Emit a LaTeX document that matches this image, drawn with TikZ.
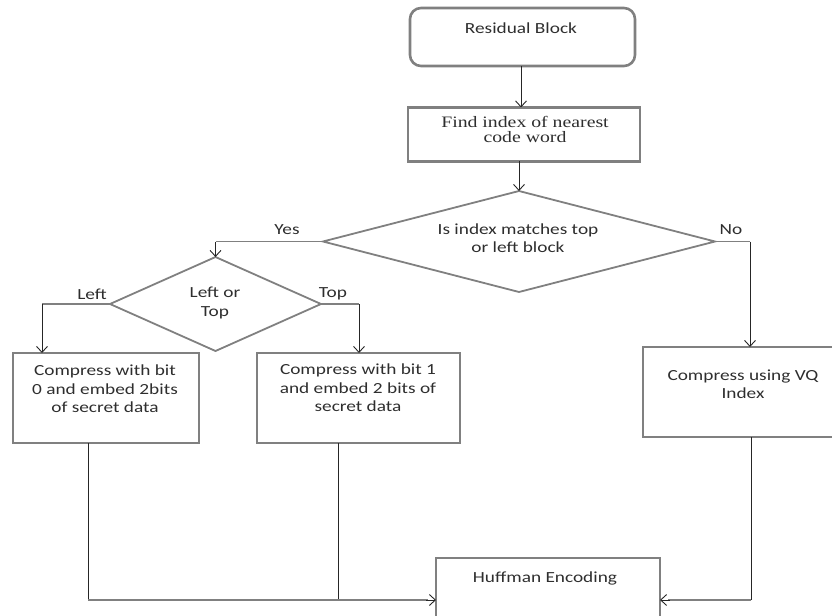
\documentclass[tikz,border=0pt]{standalone}
\usepackage{fontspec}
\setmainfont[FakeStretch=1.25]{Carlito}
\newfontfamily\serifbox[FakeStretch=1.24]{Liberation Serif}
\usetikzlibrary{shapes.geometric,arrows.meta}
\begin{document}
\begin{tikzpicture}[x=1bp,y=-1bp,
  every node/.style={inner sep=0pt,outer sep=0pt},
  boxshape/.style={draw=black!50,line width=2.6bp,rectangle,fill=none},
  dia/.style={draw=black!50,line width=1.8bp,diamond},
  txt/.style={font=\fontsize{15.5}{18.5}\selectfont,align=center,text=black!82},
  lbl/.style={font=\fontsize{15.5}{17}\selectfont,text=black!82},
  conn/.style={draw=black!85,line width=0.9bp},
  hconn/.style={draw=black!50,line width=1.8bp},
  arr/.style={conn,-{Straight Barb[length=6bp,width=11bp,line width=0.9bp]}}
]
\useasboundingbox (0,0) rectangle (832,616);

% boxes
\node[boxshape,rounded corners=11bp,minimum width=225bp,minimum height=58bp] (res) at (522.5,37) {};
\node[boxshape,minimum width=232bp,minimum height=54bp] (find) at (524,134.5) {};
\node[dia,minimum width=392bp,minimum height=101bp] (big) at (519,241.5) {};
\node[dia,minimum width=211bp,minimum height=94bp] (small) at (215.5,304) {};
\node[boxshape,minimum width=186bp,minimum height=90bp] (lb) at (106,398) {};
\node[boxshape,minimum width=203bp,minimum height=90bp] (mb) at (358.5,398) {};
\node[boxshape,minimum width=192bp,minimum height=90bp] (vq) at (739,392) {};
\node[boxshape,minimum width=224bp,minimum height=84bp] (huff) at (548,600) {};

% texts
\node[txt] (tres) at (521,28) {Residual Block};
\node[txt,font=\serifbox\fontsize{16}{15}\selectfont] (tfind) at (525,129) {Find index of nearest\\code word};
\node[txt] (tbig) at (518,238) {Is index matches top\\or left block};
\node[txt] (tsmall) at (215,303) {Left or\\Top};
\node[txt] (tlb) at (105,389) {Compress with bit\\0 and embed 2bits\\of secret data};
\node[txt] (tmb) at (358,388) {Compress with bit 1\\and embed 2 bits of\\secret data};
\node[txt] (tvq) at (743,384) {Compress using VQ\\Index};
\node[txt] (thuff) at (545,578) {Huffman Encoding};

% labels
\node[lbl] (yes) at (287,230) {Yes};
\node[lbl] (no) at (731,230) {No};
\node[lbl] (left) at (92,294) {Left};
\node[lbl] (top) at (333,294) {Top};

% coordinates
\coordinate (cl) at (42,0);
\coordinate (ct) at (359,0);
\coordinate (cn) at (750,0);
\coordinate (j1) at (88,600);
\coordinate (j2) at (338,600);
\coordinate (j3) at (751,600);

% connectors
\draw[arr] (res.south -| tres) -- (find.north -| tres);
\draw[arr] (find.south -| big.north) -- (big.north);

\draw[hconn] (big.west) -- (big.west -| small.north);
\draw[arr] (big.west -| small.north) -- (small.north);

\draw[hconn] (big.east) -- (big.east -| cn);
\draw[arr] (big.east -| cn) -- (vq.north -| cn);

\draw[hconn] (small.west) -- (small.west -| cl);
\draw[arr] (small.west -| cl) -- (lb.north -| cl);

\draw[hconn] (small.east) -- (small.east -| ct);
\draw[arr] (small.east -| ct) -- (mb.north -| ct);

\draw[conn] (lb.south -| j1) -- (j1);
\draw[conn] (mb.south -| j2) -- (j2);
\draw[hconn] (j1) -- (j2);
\draw[hconn] (j2) -- ([xshift=-8bp]huff.west);
\draw[arr] ([xshift=-10bp]huff.west) -- (huff.west);

\draw[conn] (vq.south -| j3) -- (j3);
\draw[hconn] (j3) -- ([xshift=8bp]huff.east);
\draw[arr] ([xshift=10bp]huff.east) -- (huff.east);
\end{tikzpicture}
\end{document}
